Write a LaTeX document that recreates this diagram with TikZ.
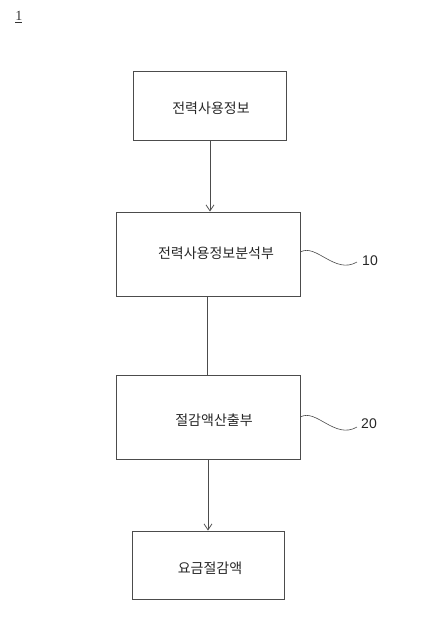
\documentclass[tikz,border=0pt]{standalone}
\usepackage{fontspec}
\setmainfont{Liberation Serif}
\newfontfamily\kr{Noto Sans CJK KR}
\newfontfamily\numf{Liberation Sans}
\usetikzlibrary{arrows.meta}
\definecolor{ln}{gray}{0.3}
\tikzset{
  blk/.style={draw=ln, line width=0.8pt, inner sep=0pt},
  lbl/.style={font=\kr\fontsize{14}{16}\selectfont, inner sep=0pt, text=black!85},
  conn/.style={draw=ln, line width=0.8pt},
  arr/.style={conn, -{Straight Barb[length=6pt,width=8pt]}},
  wave/.style={draw=ln, line width=0.6pt},
  ref/.style={font=\numf\fontsize{14}{16}\selectfont, inner sep=1pt, text=black!85}
}
\begin{document}
\begin{tikzpicture}[x=1pt,y=-1pt]
\useasboundingbox (0,0) rectangle (428,630);
\node[font=\fontsize{14}{16}\selectfont, inner sep=0pt, text=black!80] (fig) at (19,17) {\underline{1}};
\node[blk, minimum width=153pt, minimum height=69pt] (b1) at (209.5,105.5) {};
\node[lbl] (t1) at (211,108) {전력사용정보};
\node[blk, minimum width=184pt, minimum height=84pt] (b2) at (208,254) {};
\node[lbl] (t2) at (216,253) {전력사용정보분석부};
\node[blk, minimum width=184pt, minimum height=84pt] (b3) at (208,417) {};
\node[lbl] (t3) at (214,420) {절감액산출부};
\node[blk, minimum width=152pt, minimum height=68pt] (b4) at (208,565) {};
\node[lbl] (t4) at (210,568) {요금절감액};
\draw[arr] (b1.south) ++(0.5,0) coordinate (a1) -- (a1 |- b2.north);
\draw[conn] (b2.south) ++(-1,0) coordinate (a2) -- (a2 |- b3.north);
\draw[arr] (b3.south) -- (b4.north);
\node[ref] (r10) at (370,261) {10};
\node[ref] (r20) at (369,424) {20};
\coordinate (w1) at (b2.east |- 0,252);
\coordinate (w2) at (b3.east |- 0,417);
\draw[wave] (w1) .. controls (316,243) and (335,275) .. (357,262);
\draw[wave] (w2) .. controls (316,408) and (335,440) .. (357,427);
\end{tikzpicture}
\end{document}
